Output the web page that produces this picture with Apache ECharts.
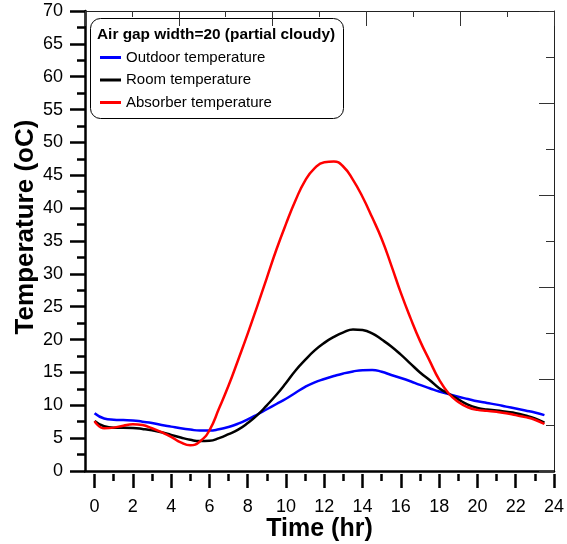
<!DOCTYPE html>
<html>
<head>
<meta charset="utf-8">
<script src="https://cdn.jsdelivr.net/npm/echarts@6/dist/echarts.min.js"></script>
<style>
  html, body { margin: 0; padding: 0; background: #fff; }
  #chart { width: 567px; height: 544px; }
</style>
</head>
<body>
<div id="chart"></div>
<script>
// sampled every half hour (hr)
const hours = [0, 0.5, 1, 1.5, 2, 2.5, 3, 3.5, 4, 4.5, 5, 5.5, 6, 6.5, 7, 7.5, 8, 8.5, 9, 9.5, 10, 10.5, 11, 11.5,
    12, 12.5, 13, 13.5, 14, 14.5, 15, 15.5, 16, 16.5, 17, 17.5, 18, 18.5, 19, 19.5, 20, 20.5, 21, 21.5, 22, 22.5, 23, 23.5];

const outdoorTemp = [8.8, 8.0, 7.8, 7.75, 7.7, 7.5, 7.3, 7.0, 6.75, 6.5, 6.3, 6.15, 6.15, 6.35, 6.7, 7.2, 7.85, 8.6, 9.4, 10.2, 11.0, 11.9, 12.8, 13.5,
    14.0, 14.45, 14.85, 15.15, 15.35, 15.38, 15.1, 14.6, 14.15, 13.65, 13.1, 12.6, 12.1, 11.7, 11.3, 10.95, 10.6, 10.35, 10.1, 9.8, 9.5, 9.2, 8.9, 8.5];

const roomTemp = [7.6, 6.8, 6.6, 6.6, 6.55, 6.4, 6.2, 5.9, 5.5, 5.1, 4.75, 4.55, 4.6, 5.0, 5.6, 6.3, 7.3, 8.5, 10.0, 11.6, 13.4, 15.3, 16.9, 18.35,
    19.5, 20.4, 21.1, 21.55, 21.45, 20.95, 20.0, 18.95, 17.7, 16.35, 15.0, 13.85, 12.6, 11.75, 10.9, 10.1, 9.6, 9.35, 9.2, 9.0, 8.8, 8.45, 8.0, 7.35];

const absorberTemp = [7.6, 6.5, 6.6, 6.9, 7.1, 7.0, 6.5, 5.9, 5.2, 4.35, 3.9, 4.5, 6.2, 9.5, 13.0, 16.9, 20.9, 25.1, 29.4, 33.7, 37.6, 41.2, 44.2, 46.1,
    47.0, 47.1, 46.3, 44.3, 41.7, 38.6, 35.3, 31.3, 27.1, 23.3, 19.8, 16.8, 13.9, 11.8, 10.5, 9.7, 9.3, 9.15, 9.0, 8.8, 8.5, 8.2, 7.8, 7.15];

const xMajorTicks = [0, 2, 4, 6, 8, 10, 12, 14, 16, 18, 20, 22, 24];
const xMinorTicks = [1, 3, 5, 7, 9, 11, 13, 15, 17, 19, 21, 23];

const legendTitle = 'Air gap width=20 (partial cloudy)';
const seriesNames = ['Outdoor temperature', 'Room temperature', 'Absorber temperature'];

const FONT = 'Arial, "Liberation Sans", sans-serif';

function pairs(xs, ys) {
    return xs.map((x, i) => [x, ys[i]]);
}

const chart = echarts.init(document.getElementById('chart'));

const hiddenAxis = {
    type: 'value',
    min: -0.5,
    max: 24,
    splitLine: { show: false },
    axisLine: { show: false, onZero: false },
    axisLabel: { show: false },
    axisTick: { show: false }
};

function lineSeries(name, values, color) {
    return {
        name: name,
        type: 'line',
        data: pairs(hours, values),
        smooth: 0.5,
        symbol: 'none',
        color: color,
        lineStyle: { width: 2.5, color: color }
    };
}

const option = {
    backgroundColor: '#fff',
    animation: false,
    grid: { left: 85, right: 13, top: 11, bottom: 73, containLabel: false, outerBoundsMode: 'none' },
    xAxis: [
        // bottom axis line
        Object.assign({}, hiddenAxis, {
            position: 'bottom',
            axisLine: { show: true, onZero: false, lineStyle: { color: '#000', width: 2.5 } }
        }),
        // major ticks and labels
        Object.assign({}, hiddenAxis, {
            position: 'bottom',
            offset: 3,
            name: 'Time (hr)',
            nameLocation: 'middle',
            nameGap: 43,
            nameMoveOverlap: false,
            nameTextStyle: { fontFamily: FONT, fontSize: 25, fontWeight: 'bold', color: '#000' },
            axisTick: {
                show: true, inside: false, length: 14,
                customValues: xMajorTicks,
                lineStyle: { color: '#000', width: 2.5 }
            },
            axisLabel: {
                show: true, margin: 24,
                customValues: xMajorTicks,
                fontFamily: FONT, fontSize: 18, color: '#000'
            }
        }),
        // minor ticks
        Object.assign({}, hiddenAxis, {
            position: 'bottom',
            offset: 3,
            axisTick: {
                show: true, inside: false, length: 7,
                customValues: xMinorTicks,
                lineStyle: { color: '#000', width: 2.5 }
            }
        }),
        // top frame axis
        {
            type: 'value',
            position: 'top',
            min: 0,
            max: 10,
            interval: 2,
            splitLine: { show: false },
            axisLabel: { show: false },
            axisLine: { show: true, onZero: false, lineStyle: { color: '#222', width: 1 } },
            axisTick: { show: true, inside: true, length: 15, lineStyle: { color: '#333', width: 1 } },
            minorTick: { show: true, splitNumber: 2, length: 6, lineStyle: { color: '#333', width: 1 } }
        }
    ],
    yAxis: [
        {
            type: 'value',
            position: 'left',
            min: 0,
            max: 70,
            interval: 5,
            name: 'Temperature (oC)',
            nameLocation: 'middle',
            nameGap: 46,
            nameMoveOverlap: false,
            nameTextStyle: {
                fontFamily: FONT, fontSize: 26, fontWeight: 'bold', color: '#000',
                padding: [0, 0, 0, 28]
            },
            splitLine: { show: false },
            axisLine: { show: true, onZero: false, lineStyle: { color: '#000', width: 2.5 } },
            axisTick: { show: true, inside: false, length: 15, lineStyle: { color: '#000', width: 2.5 } },
            minorTick: { show: true, splitNumber: 2, length: 8, lineStyle: { color: '#000', width: 2.5 } },
            axisLabel: { margin: 22, fontFamily: FONT, fontSize: 18, color: '#000' }
        },
        {
            type: 'value',
            position: 'right',
            min: 0,
            max: 10,
            interval: 2,
            splitLine: { show: false },
            axisLabel: { show: false },
            axisLine: { show: true, onZero: false, lineStyle: { color: '#222', width: 1 } },
            axisTick: { show: true, inside: true, length: 15, lineStyle: { color: '#333', width: 1 } },
            minorTick: { show: true, splitNumber: 2, length: 8, lineStyle: { color: '#333', width: 1 } }
        }
    ],
    legend: {
        orient: 'vertical',
        left: 95,
        top: 45,
        itemWidth: 21,
        itemHeight: 3,
        itemGap: 7.5,
        icon: 'rect',
        textStyle: { fontFamily: FONT, fontSize: 15, lineHeight: 15, color: '#000' },
        data: seriesNames
    },
    graphic: [
        {
            type: 'rect',
            left: 90,
            top: 18,
            z: 0,
            shape: { width: 253, height: 100, r: 10 },
            style: { fill: '#fff', stroke: '#000', lineWidth: 1 }
        },
        {
            type: 'text',
            left: 97,
            top: 27,
            z: 1,
            style: { text: legendTitle, fontFamily: FONT, fontSize: 15.4, fontWeight: 'bold', fill: '#000' }
        }
    ],
    series: [
        lineSeries(seriesNames[0], outdoorTemp, '#0000ff'),
        lineSeries(seriesNames[1], roomTemp, '#000000'),
        lineSeries(seriesNames[2], absorberTemp, '#ff0000')
    ]
};

chart.setOption(option);
</script>
</body>
</html>
